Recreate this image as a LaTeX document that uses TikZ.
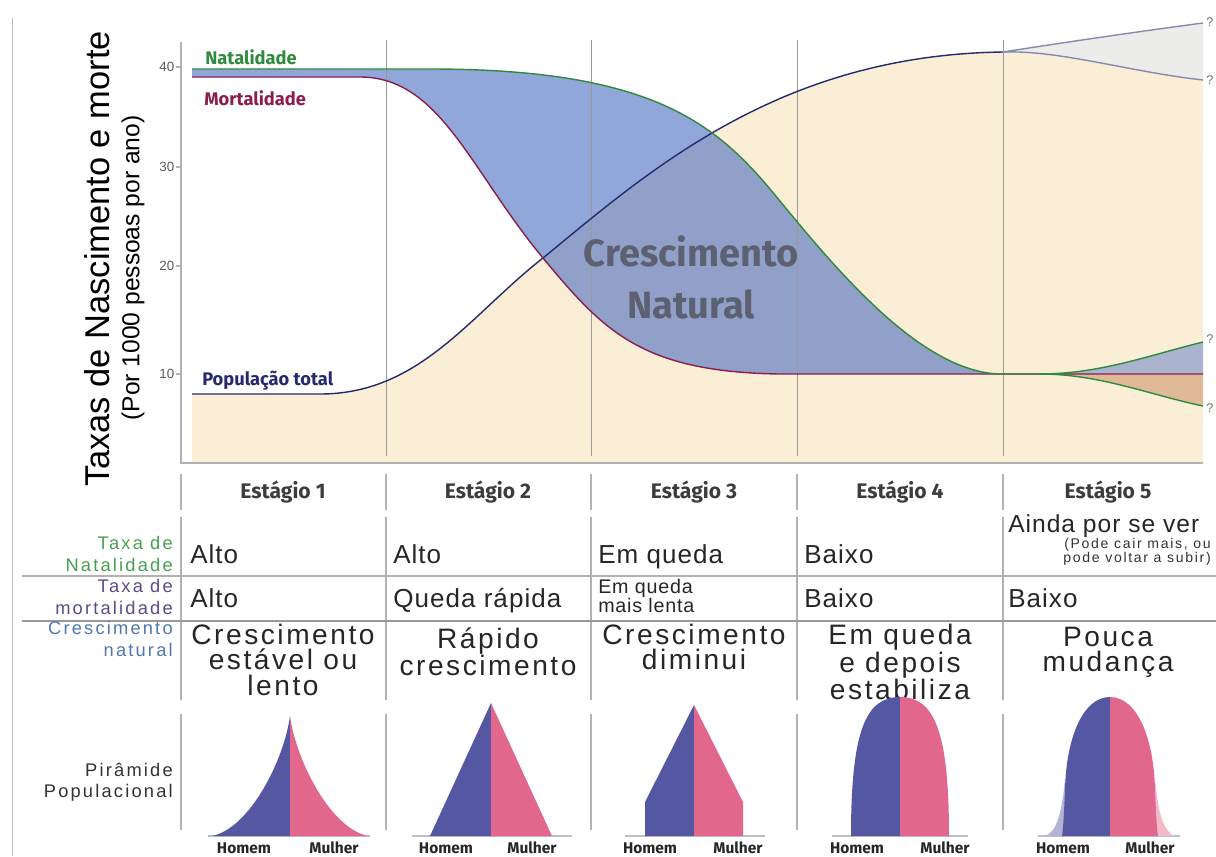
\documentclass[tikz,border=0pt]{standalone}
\usepackage{fontspec}
\setmainfont{Fira Sans}
\newfontfamily\arialfont{Liberation Sans}
\newfontfamily\tabfont[LetterSpace=4]{Liberation Sans}
\newfontfamily\crescfont[LetterSpace=9]{Liberation Sans}
\newfontfamily\rotfont[LetterSpace=12]{Liberation Sans}
\usetikzlibrary{positioning}

\definecolor{bege}{RGB}{250,238,214}
\definecolor{cinzaclaro}{RGB}{236,236,234}
\definecolor{verdenat}{RGB}{46,139,62}
\definecolor{roxomort}{RGB}{139,30,79}
\definecolor{azulpop}{RGB}{36,42,110}
\definecolor{azulcresc}{RGB}{74,108,192}
\definecolor{azulclaro}{RGB}{170,180,206}
\definecolor{laranjaclaro}{RGB}{224,186,152}
\definecolor{cinzanum}{RGB}{92,96,112}
\definecolor{cinzatexto}{RGB}{60,60,60}
\definecolor{verderot}{RGB}{70,160,80}
\definecolor{roxorot}{RGB}{90,75,140}
\definecolor{azulrot}{RGB}{80,120,175}
\definecolor{azulpir}{RGB}{85,87,163}
\definecolor{rosapir}{RGB}{226,103,141}

\tikzset{
	estagio/.style={inner sep=0pt, font=\bfseries\fontsize{15}{18}\selectfont, text=cinzatexto},
	valor/.style={anchor=base west, inner sep=0pt, font=\tabfont\fontsize{18.5}{20}\selectfont, text=black!85},
	valorpeq/.style={anchor=west, inner sep=0pt, align=left, font=\tabfont\fontsize{14}{11}\selectfont, text=black!85},
	cresc/.style={anchor=north, inner sep=0pt, align=center, font=\crescfont\fontsize{20}{18}\selectfont, text=black!85},
	rotulo/.style={anchor=east, inner sep=0pt, align=right, font=\rotfont\fontsize{13}{15}\selectfont},
	legenda/.style={anchor=west, inner sep=0pt, font=\bfseries\fontsize{13}{15}\selectfont},
	numeixo/.style={anchor=east, inner sep=1pt, font=\arialfont\fontsize{9.5}{11}\selectfont, text=black!65},
	interrog/.style={inner sep=0pt, font=\arialfont\fontsize{9}{10}\selectfont, text=black!55},
	sexo/.style={inner sep=0pt, font=\bfseries\fontsize{11}{12}\selectfont, text=black!85},
	curva/.style={line width=1pt},
	divisoria/.style={draw=black!30, line width=1pt},
	linhaestagio/.style={draw=black!40, line width=0.7pt},
	base/.style={draw=black!25, line width=1.2pt}
}

\begin{document}
\begin{tikzpicture}[x=0.025cm, y=-0.025cm]
\useasboundingbox (0,0) rectangle (1216,856);

\def\curvanat{(192,69) -- (430,69) .. controls (650,69) and (715,122) .. (775,195) .. controls (835,268) and (920,372) .. (1000,374) -- (1040,374)}
\def\segnatsup{.. controls (1100,374) and (1150,355) .. (1203,342)}
\def\segnatinf{.. controls (1100,374) and (1150,395) .. (1203,406)}
\def\curvamort{(192,77) -- (360,77) .. controls (440,77) and (470,170) .. (543,258) .. controls (603,330) and (640,372) .. (780,374) -- (1203,374)}
\def\curvapop{(192,394) -- (320,394) .. controls (420,394) and (470,315) .. (543,258) .. controls (650,170) and (780,55) .. (1003,52)}
\def\segpopinf{.. controls (1060,50) and (1130,72) .. (1203,80)}
\def\segpopsup{.. controls (1080,40) and (1150,30) .. (1203,23)}

% areas
\fill[cinzaclaro] (1003,52) \segpopsup -- (1203,150) -- (1003,150) -- cycle;
\fill[bege] \curvapop \segpopinf -- (1203,463) -- (192,463) -- cycle;
\begin{scope}
	\clip \curvanat \segnatinf -- (1203,470) -- (192,470) -- cycle;
	\fill[azulcresc, opacity=0.6] \curvamort -- (1203,30) -- (192,30) -- cycle;
\end{scope}
\fill[azulclaro] (1040,374) \segnatsup -- (1203,374) -- cycle;
\fill[laranjaclaro] (1040,374) \segnatinf -- (1203,374) -- cycle;

\foreach \x in {386,591,797,1003}
	\draw[linhaestagio] (\x,40) -- (\x,456);

% curvas
\draw[curva, azulpop] \curvapop;
\draw[curva, azulpop!55] (1003,52) \segpopinf;
\draw[curva, azulpop!55] (1003,52) \segpopsup;
\draw[curva, roxomort] \curvamort;
\draw[curva, verdenat] \curvanat \segnatinf;
\draw[curva, verdenat] (1040,374) \segnatsup;

% eixos
\draw[black!25] (12,18) -- (12,856);
\draw[black!30, line width=1.5pt] (181,42) -- (181,463) -- (1203,463);
\foreach \v/\yy in {40/67,30/167,20/266,10/374} {
	\draw[black!30, line width=1pt] (176,\yy) -- (181,\yy);
	\node[numeixo] (n\v) at (176,\yy) {\v};
}
\node[rotate=90, inner sep=0pt, font=\arialfont\fontsize{24.5}{28}\selectfont] (titulo) at (97,259) {Taxas de Nascimento e morte};
\node[rotate=90, inner sep=0pt, font=\arialfont\fontsize{17.5}{20}\selectfont] (subtitulo) at (133,268) {(Por 1000 pessoas por ano)};

\node[legenda, text=verdenat] (natalidade) at (205,57) {Natalidade};
\node[legenda, text=roxomort] (mortalidade) at (204,98) {Mortalidade};
\node[legenda, text=azulpop] (populacao) at (202,381) {População total};
\node[align=center, inner sep=0pt, text=cinzanum, font=\bfseries\fontsize{27}{37}\selectfont] (crescnat) at (691,277) {Crescimento\\Natural};

\node[interrog] (q1) at (1210,22) {?};
\node[interrog] (q2) at (1210,80) {?};
\node[interrog] (q3) at (1210,339) {?};
\node[interrog] (q4) at (1210,408) {?};

% tabela
\foreach \x in {181,386,591,797,1003} {
	\draw[divisoria] (\x,474) -- (\x,510);
	\draw[divisoria] (\x,517) -- (\x,700);
	\draw[divisoria] (\x,714) -- (\x,830);
}
\draw[divisoria] (22,576) -- (1216,576);
\draw[divisoria, draw=black!40, line width=1.3pt] (22,621) -- (1216,621);

\node[estagio] (e1) at (283,492) {Estágio 1};
\node[estagio] (e2) at (488,492) {Estágio 2};
\node[estagio] (e3) at (694,492) {Estágio 3};
\node[estagio] (e4) at (900,492) {Estágio 4};
\node[estagio] (e5) at (1108,492) {Estágio 5};

\node[rotulo, text=verderot] (rnat) at (173,554) {Taxa de\\Natalidade};
\node[rotulo, text=roxorot] (rmort) at (173,597) {Taxa de\\mortalidade};
\node[rotulo, text=azulrot] (rcresc) at (173,639) {Crescimento\\natural};
\node[rotulo, text=black!80] (rpir) at (173,782) {Pirâmide\\Populacional};

\node[valor] (nat1) at (190,563) {Alto};
\node[valor] (nat2) at (393,563) {Alto};
\node[valor] (nat3) at (598,563) {Em queda};
\node[valor] (nat4) at (804,563) {Baixo};
\node[valor, font=\tabfont\fontsize{17.5}{20}\selectfont] (nat5) at (1008,532) {Ainda por se ver};
\node[anchor=east, align=right, inner sep=0pt, font=\rotfont\fontsize{10}{9}\selectfont, text=black!80] (nat5b) at (1211,552) {(Pode cair mais, ou\\pode voltar a subir)};

\node[valor] (mort1) at (190,607) {Alto};
\node[valor] (mort2) at (393,607) {Queda rápida};
\node[valorpeq] (mort3) at (598,596) {Em queda\\mais lenta};
\node[valor] (mort4) at (804,607) {Baixo};
\node[valor] (mort5) at (1008,607) {Baixo};

\node[cresc] (cr1) at (283,624) {Crescimento\\estável ou\\lento};
\node[cresc] (cr2) at (488,627) {Rápido\\crescimento};
\node[cresc] (cr3) at (694,624) {Crescimento\\diminui};
\node[cresc] (cr4) at (900,624) {Em queda\\e depois\\estabiliza};
\node[cresc] (cr5) at (1108,627) {Pouca\\mudança};

% piramides
\draw[base] (208,836) -- (370,836);
\fill[azulpir] (290,716) .. controls (284,760) and (250,828) .. (212,836) -- (290,836) -- cycle;
\fill[rosapir] (290,716) .. controls (296,760) and (330,828) .. (368,836) -- (290,836) -- cycle;

\draw[base] (412,836) -- (572,836);
\fill[azulpir] (491,703) -- (430,836) -- (491,836) -- cycle;
\fill[rosapir] (491,703) -- (552,836) -- (491,836) -- cycle;

\draw[base] (625,836) -- (765,836);
\fill[azulpir] (694,705) -- (645,802) -- (645,836) -- (694,836) -- cycle;
\fill[rosapir] (694,705) -- (743,802) -- (743,836) -- (694,836) -- cycle;

\draw[base] (832,836) -- (968,836);
\fill[azulpir] (900,697) .. controls (866,697) and (851,730) .. (851,836) -- (900,836) -- cycle;
\fill[rosapir] (900,697) .. controls (934,697) and (949,730) .. (949,836) -- (900,836) -- cycle;

\draw[base] (1038,836) -- (1180,836);
\fill[azulpir!45] (1065,778) .. controls (1062,815) and (1056,832) .. (1045,836) -- (1066,836) -- cycle;
\fill[rosapir!45] (1155,778) .. controls (1158,815) and (1164,832) .. (1175,836) -- (1154,836) -- cycle;
\fill[azulpir] (1110,697) .. controls (1082,697) and (1066,740) .. (1065,790) .. controls (1064,815) and (1063,830) .. (1062,836) -- (1110,836) -- cycle;
\fill[rosapir] (1110,697) .. controls (1138,697) and (1154,740) .. (1155,790) .. controls (1156,815) and (1157,830) .. (1158,836) -- (1110,836) -- cycle;

\foreach \c/\h/\m in {1/244/334,2/446/532,3/650/738,4/857/945,5/1063/1150} {
	\node[sexo] (h\c) at (\h,848) {Homem};
	\node[sexo] (m\c) at (\m,848) {Mulher};
}
\end{tikzpicture}
\end{document}
